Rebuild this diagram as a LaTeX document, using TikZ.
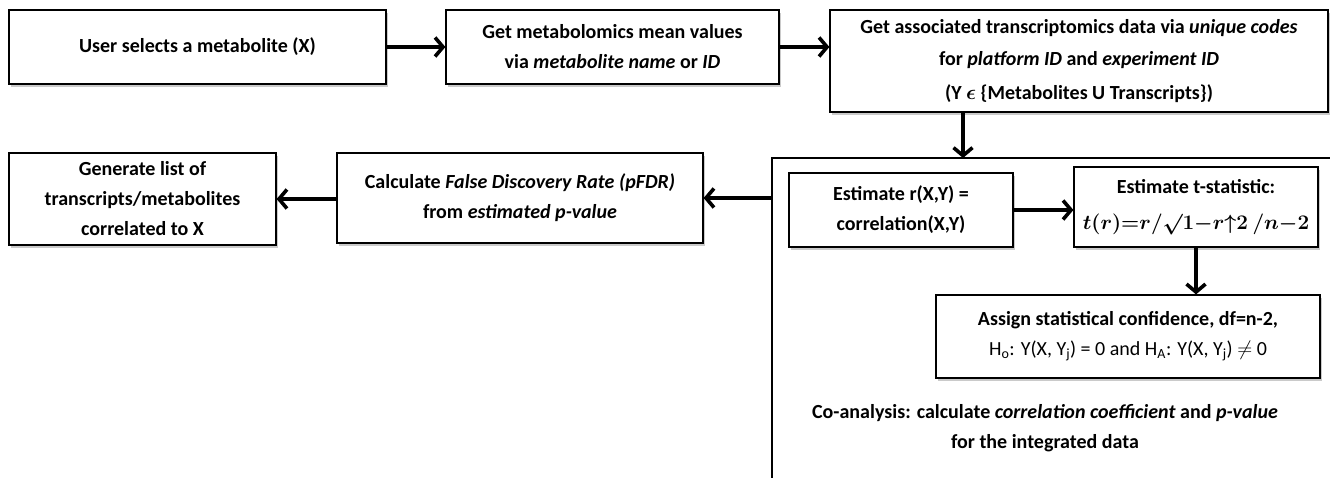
\documentclass[tikz,border=0pt]{standalone}
\usepackage{fontspec}
\setmainfont{Carlito}
\usetikzlibrary{arrows.meta,positioning,shadows,calc}

\begin{document}
\begin{tikzpicture}[
    x=1pt, y=-1pt,
    every node/.style={font=\fontsize{20}{30}\selectfont\bfseries},
    block/.style={rectangle, draw, line width=1.2pt, fill=white, align=center, inner sep=2pt,
        drop shadow={shadow xshift=2pt, shadow yshift=-3pt, fill=black!35, opacity=0.6}},
    arrow/.style={-{Straight Barb[length=8pt, width=19pt]}, line width=3.6pt},
    frameline/.style={line width=1.2pt}
]
\useasboundingbox (0,0) rectangle (1330,477);

% Top row
\node[block, minimum width=377pt, minimum height=74pt] (select) at (197.5,47) {User selects a metabolite (X)};
\node[block, minimum width=333pt, minimum height=74pt] (metab) at (612.5,47) {Get metabolomics mean values\\via \textit{metabolite name} or \textit{ID}};
\node[block, minimum width=498pt, minimum height=102pt] (trans) at (1079,61) {Get associated transcriptomics data via \textit{unique codes}\\[2pt]for \textit{platform ID} and \textit{experiment ID}\\[4pt]
    (Y {\boldmath$\epsilon$} \{Metabolites U Transcripts\})};

% Co-analysis frame
\coordinate (coan-nw) at (772,158);
\coordinate (coan-in) at (963,158);
\coordinate (coan-out) at (772,198);
\draw[frameline] (772,478) -- (coan-nw) -- (1331,158);
\node[align=center] (coan) at (1045,428) {Co-analysis: calculate \textit{correlation coefficient} and \textit{p-value}\\for the integrated data};

\node[block, minimum width=224pt, minimum height=74pt] (est) at (901,210) {Estimate r(X,Y) =\\correlation(X,Y)};
\node[block, minimum width=244pt, minimum height=80pt] (tstat) at (1196,207) {Estimate t-statistic:\\[6pt]{\boldmath$t(r){=}r/\surd1{-}r{\uparrow}2\ /n{-}2$}};
\node[block, minimum width=384pt, minimum height=83pt] (assign) at (1128,336.5) {Assign statistical confidence, df=n-2,\\
    \mdseries H\textsubscript{o}: Υ(X, Y\textsubscript{j}) = 0 and H\textsubscript{A}: Υ(X, Y\textsubscript{j}) $\neq$ 0};

% Bottom-left row
\node[block, minimum width=366pt, minimum height=90pt] (pfdr) at (520,198) {Calculate \textit{False Discovery Rate (pFDR)}\\from \textit{estimated p-value}};
\node[block, minimum width=267pt, minimum height=92pt] (genlist) at (142.5,199) {Generate list of\\transcripts/metabolites\\correlated to X};

% Flow
\draw[arrow] (select) -- (metab);
\draw[arrow] (metab.east) -- (metab.east -| trans.west);
\draw[arrow] (coan-in |- trans.south) -- (coan-in);
\draw[arrow] (est) -- (est -| tstat.west);
\draw[arrow] (tstat.south) -- (tstat.south |- assign.north);
\draw[arrow] (coan-out) -- (pfdr.east |- coan-out);
\draw[arrow] (pfdr.west |- genlist) -- (genlist);

\end{tikzpicture}
\end{document}
